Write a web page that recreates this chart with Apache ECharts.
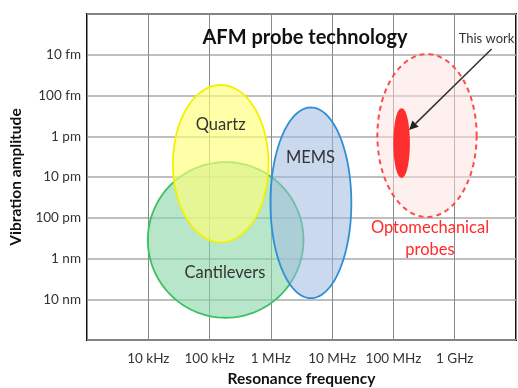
<!DOCTYPE html>
<html>
<head>
<meta charset="utf-8">
<script src="https://cdn.jsdelivr.net/npm/echarts@6/dist/echarts.min.js"></script>
<style>
html,body{margin:0;padding:0;background:#fff;}
#chart{width:518px;height:388px;}
</style>
</head>
<body>
<div id="chart"></div>
<script>
// ---- data ----
const categories = ['Cantilevers', 'Quartz', 'MEMS', 'Optomechanical probes', 'This work'];
const centerFreqHz = [1.83e5, 1.52e5, 4.5e6, 3.53e8, 1.36e8];
const centerAmpM = [3.5e-10, 4.7e-12, 4.3e-11, 9.6e-13, 1.47e-12];
const halfWidthDecades = [1.27, 0.78, 0.66, 0.81, 0.12];
const halfHeightDecades = [1.91, 1.93, 2.34, 2.0, 0.83];

const labelText = ['Cantilevers', 'Quartz', 'MEMS', 'Optomechanical\nprobes', ''];
const labelFreqHz = [1.78e5, 1.52e5, 4.43e6, 3.95e8, 0];
const labelAmpM = [2.27e-9, 5.3e-13, 3.42e-12, 3.3e-10, 0];

const arrowStartFreq = 4.0e9, arrowStartAmp = 7.2e-15;
const arrowTipFreq = 1.8e8, arrowTipAmp = 7.0e-13;
const arrowLabel = 'This work';
const arrowLabelFreq = 3.3e9, arrowLabelAmp = 4.1e-15;

const xTickValues = [1e4, 1e5, 1e6, 1e7, 1e8, 1e9];
const xTickLabels = ['10 kHz', '100 kHz', '1 MHz', '10 MHz', '100 MHz', '1 GHz'];
const yTickValues = [1e-14, 1e-13, 1e-12, 1e-11, 1e-10, 1e-9, 1e-8];
const yTickLabels = ['10 fm', '100 fm', '1 pm', '10 pm', '100 pm', '1 nm', '10 nm'];

// ---- styles ----
const fills = ['rgba(140,215,170,0.62)', 'rgba(255,255,120,0.65)', 'rgba(160,185,225,0.55)', 'rgba(255,225,225,0.5)', '#ff2e2e'];
const strokes = ['#3cc062', '#f2f200', '#2f8fd6', '#ff4a4a', '#ff2e2e'];
const dashed = [false, false, false, true, false];
const labelColors = ['#333', '#333', '#333', '#ff2a2a', '#333'];
const FONT = 'Lato, "DejaVu Sans", sans-serif';

function fmt(values, labels) {
  return function (v) {
    for (let i = 0; i < values.length; i++) {
      if (Math.abs(Math.log10(v) - Math.log10(values[i])) < 1e-6) return labels[i];
    }
    return '';
  };
}

const drawOrder = [0, 1, 2, 3, 4];
const ellipseData = drawOrder.map(i => [i]);

const chart = echarts.init(document.getElementById('chart'), null, { renderer: 'canvas' });
chart.setOption({
  animation: false,
  backgroundColor: '#fff',
  title: {
    text: 'AFM probe technology',
    left: 300, top: 23, textAlign: 'center',
    textStyle: { fontFamily: FONT, fontSize: 20, fontWeight: 'bold', color: '#111' }
  },
  grid: { left: 87, right: 2, top: 14, bottom: 48, show: true, borderColor: '#111', borderWidth: 2, backgroundColor: 'transparent', containLabel: false, outerBoundsMode: 'none' },
  xAxis: {
    type: 'log', logBase: 10, min: 1e3, max: 1e10, splitNumber: 7,
    name: 'Resonance frequency', nameLocation: 'middle', nameGap: 31,
    nameTextStyle: { fontFamily: FONT, fontSize: 15.5, fontWeight: 'bold', color: '#111' },
    axisLine: { show: false }, axisTick: { show: false },
    axisLabel: { formatter: fmt(xTickValues, xTickLabels), fontFamily: FONT, fontSize: 13.5, color: '#333', margin: 12 },
    splitLine: { show: true, lineStyle: { color: '#8a8a8a', width: 1 } },
    minorTick: { show: false }
  },
  yAxis: {
    type: 'log', logBase: 10, min: 1e-15, max: 1e-7, inverse: true, splitNumber: 8,
    name: 'Vibration amplitude', nameLocation: 'middle', nameGap: 57, nameRotate: 90,
    nameTextStyle: { fontFamily: FONT, fontSize: 15.5, fontWeight: 'bold', color: '#111' },
    axisLine: { show: false }, axisTick: { show: false },
    axisLabel: { formatter: fmt(yTickValues, yTickLabels), fontFamily: FONT, fontSize: 13.5, color: '#333', margin: 6 },
    splitLine: { show: true, lineStyle: { color: '#aaaaaa', width: 1.5 } }
  },
  series: [
    {
      type: 'custom',
      coordinateSystem: 'cartesian2d',
      clip: true,
      data: ellipseData,
      encode: { x: -1, y: -1 },
      renderItem: function (params, api) {
        const i = api.value(0);
        const lcx = Math.log10(centerFreqHz[i]);
        const lcy = Math.log10(centerAmpM[i]);
        const pts = [];
        const N = 120;
        for (let k = 0; k < N; k++) {
          const t = 2 * Math.PI * k / N;
          pts.push(api.coord([
            Math.pow(10, lcx + halfWidthDecades[i] * Math.cos(t)),
            Math.pow(10, lcy + halfHeightDecades[i] * Math.sin(t))
          ]));
        }
        return {
          type: 'polygon',
          shape: { points: pts },
          style: {
            fill: fills[i], stroke: strokes[i],
            lineWidth: dashed[i] ? 2 : 1.8,
            lineDash: dashed[i] ? [5, 4] : null
          }
        };
      },
      z: 2
    },
    {
      type: 'custom',
      coordinateSystem: 'cartesian2d',
      data: drawOrder.map(i => [i]),
      encode: { x: -1, y: -1 },
      renderItem: function (params, api) {
        const i = api.value(0);
        if (!labelText[i]) return null;
        const p = api.coord([labelFreqHz[i], labelAmpM[i]]);
        return {
          type: 'text',
          x: p[0], y: p[1],
          style: {
            text: labelText[i], fill: labelColors[i],
            font: '16.5px ' + FONT,
            align: 'center', verticalAlign: 'middle', lineHeight: 22
          }
        };
      },
      z: 4
    },
    {
      type: 'custom',
      coordinateSystem: 'cartesian2d',
      data: [[0]],
      encode: { x: -1, y: -1 },
      renderItem: function (params, api) {
        const s = api.coord([arrowStartFreq, arrowStartAmp]);
        const e = api.coord([arrowTipFreq, arrowTipAmp]);
        const lp = api.coord([arrowLabelFreq, arrowLabelAmp]);
        const dx = e[0] - s[0], dy = e[1] - s[1];
        const len = Math.sqrt(dx * dx + dy * dy);
        const ux = dx / len, uy = dy / len;
        const hl = 9, hw = 4.5;
        const bx = e[0] - ux * hl, by = e[1] - uy * hl;
        return {
          type: 'group',
          children: [
            { type: 'line', shape: { x1: s[0], y1: s[1], x2: bx, y2: by }, style: { stroke: '#333', lineWidth: 1.5 } },
            { type: 'polygon', shape: { points: [e, [bx - uy * hw, by + ux * hw], [bx + uy * hw, by - ux * hw]] }, style: { fill: '#222' } },
            { type: 'text', x: lp[0], y: lp[1], style: { text: arrowLabel, fill: '#333', font: '13px ' + FONT, align: 'center', verticalAlign: 'middle' } }
          ]
        };
      },
      z: 5
    }
  ]
});
</script>
</body>
</html>
